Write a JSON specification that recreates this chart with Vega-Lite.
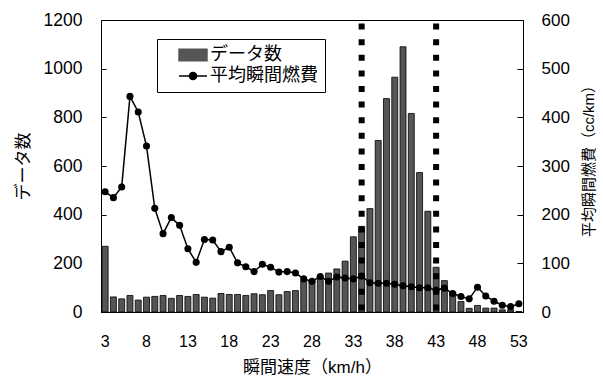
{
  "$schema": "https://vega.github.io/schema/vega-lite/v6.json",
  "width": 422,
  "height": 292,
  "autosize": {"type": "none"},
  "padding": {"left": 101, "top": 20, "right": 80, "bottom": 69},
  "config": {
    "font": "Liberation Sans, Noto Sans CJK JP",
    "view": {"stroke": "black", "strokeWidth": 1},
    "axis": {"domainColor": "black", "tickColor": "black", "labelColor": "black", "titleColor": "black", "titleFontWeight": "normal", "grid": false}
  },
  "datasets": {
    "main": [
      {"s": 3, "n": 270, "f": 247}, {"s": 4, "n": 62, "f": 235}, {"s": 5, "n": 54, "f": 257},
      {"s": 6, "n": 68, "f": 443}, {"s": 7, "n": 49, "f": 411}, {"s": 8, "n": 61, "f": 341},
      {"s": 9, "n": 64, "f": 213}, {"s": 10, "n": 68, "f": 161}, {"s": 11, "n": 56, "f": 194},
      {"s": 12, "n": 68, "f": 178}, {"s": 13, "n": 64, "f": 130}, {"s": 14, "n": 72, "f": 102},
      {"s": 15, "n": 61, "f": 149}, {"s": 16, "n": 57, "f": 148}, {"s": 17, "n": 76, "f": 124},
      {"s": 18, "n": 72, "f": 133}, {"s": 19, "n": 72, "f": 101}, {"s": 20, "n": 68, "f": 93},
      {"s": 21, "n": 75, "f": 83}, {"s": 22, "n": 71, "f": 98}, {"s": 23, "n": 88, "f": 92},
      {"s": 24, "n": 71, "f": 82}, {"s": 25, "n": 84, "f": 83}, {"s": 26, "n": 88, "f": 80},
      {"s": 27, "n": 130, "f": 68}, {"s": 28, "n": 130, "f": 63}, {"s": 29, "n": 145, "f": 73},
      {"s": 30, "n": 160, "f": 63}, {"s": 31, "n": 177, "f": 72}, {"s": 32, "n": 209, "f": 70},
      {"s": 33, "n": 309, "f": 68}, {"s": 34, "n": 352, "f": 74}, {"s": 35, "n": 425, "f": 60},
      {"s": 36, "n": 705, "f": 59}, {"s": 37, "n": 877, "f": 59}, {"s": 38, "n": 965, "f": 57},
      {"s": 39, "n": 1090, "f": 54}, {"s": 40, "n": 816, "f": 52}, {"s": 41, "n": 573, "f": 50},
      {"s": 42, "n": 414, "f": 50}, {"s": 43, "n": 184, "f": 45}, {"s": 44, "n": 129, "f": 49},
      {"s": 45, "n": 82, "f": 38}, {"s": 46, "n": 43, "f": 32}, {"s": 47, "n": 15, "f": 27},
      {"s": 48, "n": 27, "f": 51}, {"s": 49, "n": 16, "f": 33}, {"s": 50, "n": 16, "f": 22},
      {"s": 51, "n": 9, "f": 14}, {"s": 52, "n": 9, "f": 11}, {"s": 53, "n": 2, "f": 17}
    ],
    "rules": [{"s": 34}, {"s": 43}]
  },
  "layer": [
    {
      "data": {"name": "main"},
      "mark": {"type": "bar", "stroke": "black", "strokeWidth": 0.8},
      "encoding": {
        "x": {
          "field": "s", "type": "ordinal",
          "scale": {"paddingInner": 0.28, "paddingOuter": 0.14},
          "axis": {
            "title": "瞬間速度（km/h）",
            "values": [3, 8, 13, 18, 23, 28, 33, 38, 43, 48, 53],
            "labelAngle": 0, "ticks": false, "labelPadding": 21,
            "labelFontSize": 16, "titleFontSize": 17, "titlePadding": 10
          }
        },
        "y": {
          "field": "n", "type": "quantitative",
          "scale": {"domain": [0, 1200], "nice": false},
          "axis": {
            "title": "データ数", "format": "d",
            "values": [0, 200, 400, 600, 800, 1000, 1200],
            "tickSize": -5, "labelPadding": 24, "labelFontSize": 17.5,
            "titleFontSize": 17, "titlePadding": 11
          }
        },
        "color": {
          "datum": "データ数", "type": "nominal",
          "scale": {"domain": ["データ数", "平均瞬間燃費"], "range": ["#555555", "#000000"]},
          "legend": {
            "orient": "none", "legendX": 56, "legendY": 19, "title": null,
            "strokeColor": "black", "fillColor": "white", "padding": 7,
            "labelFontSize": 18, "symbolSize": 144, "symbolOffset": 20,
            "labelOffset": 8, "rowPadding": 3,
            "encode": {
              "symbols": {
                "update": {
                  "shape": {"signal": "datum.value === 'データ数' ? 'M-2.33,-0.95H2.33V0.95H-2.33Z' : 'M-2.33,0H2.33M-0.6,0A0.6,0.6 0 1 1 0.6,0A0.6,0.6 0 1 1 -0.6,0Z'"},
                  "fill": {"signal": "datum.value === 'データ数' ? '#555555' : '#000000'"},
                  "stroke": {"value": "#000000"},
                  "strokeWidth": {"value": 1.5},
                  "opacity": {"value": 1},
                  "fillOpacity": {"value": 1}
                }
              }
            }
          }
        }
      }
    },
    {
      "data": {"name": "main"},
      "mark": {"type": "line", "strokeWidth": 1.5, "point": {"filled": true, "size": 50}},
      "encoding": {
        "x": {"field": "s", "type": "ordinal"},
        "y": {
          "field": "f", "type": "quantitative",
          "scale": {"domain": [0, 600], "nice": false},
          "axis": {
            "orient": "right", "title": "平均瞬間燃費（cc/km）",
            "values": [0, 100, 200, 300, 400, 500, 600],
            "tickSize": -6, "labelPadding": 24, "labelFontSize": 17,
            "titleFontSize": 15, "titleAngle": 270, "titlePadding": 27, "titleY": 137
          }
        },
        "color": {
          "datum": "平均瞬間燃費", "type": "nominal",
          "legend": {
            "orient": "none", "legendX": 56, "legendY": 19, "title": null,
            "strokeColor": "black", "fillColor": "white", "padding": 7,
            "labelFontSize": 18, "symbolSize": 144, "symbolOffset": 20,
            "labelOffset": 8, "rowPadding": 3,
            "encode": {
              "symbols": {
                "update": {
                  "shape": {"signal": "datum.value === 'データ数' ? 'M-2.33,-0.95H2.33V0.95H-2.33Z' : 'M-2.33,0H2.33M-0.6,0A0.6,0.6 0 1 1 0.6,0A0.6,0.6 0 1 1 -0.6,0Z'"},
                  "fill": {"signal": "datum.value === 'データ数' ? '#555555' : '#000000'"},
                  "stroke": {"value": "#000000"},
                  "strokeWidth": {"value": 1.5},
                  "opacity": {"value": 1},
                  "fillOpacity": {"value": 1}
                }
              }
            }
          }
        }
      }
    },
    {
      "data": {"name": "rules"},
      "mark": {"type": "rule", "strokeWidth": 6, "strokeDash": [6, 9.6], "strokeDashOffset": 12, "color": "black"},
      "encoding": {"x": {"field": "s", "type": "ordinal"}}
    }
  ],
  "resolve": {"scale": {"y": "independent"}}
}
